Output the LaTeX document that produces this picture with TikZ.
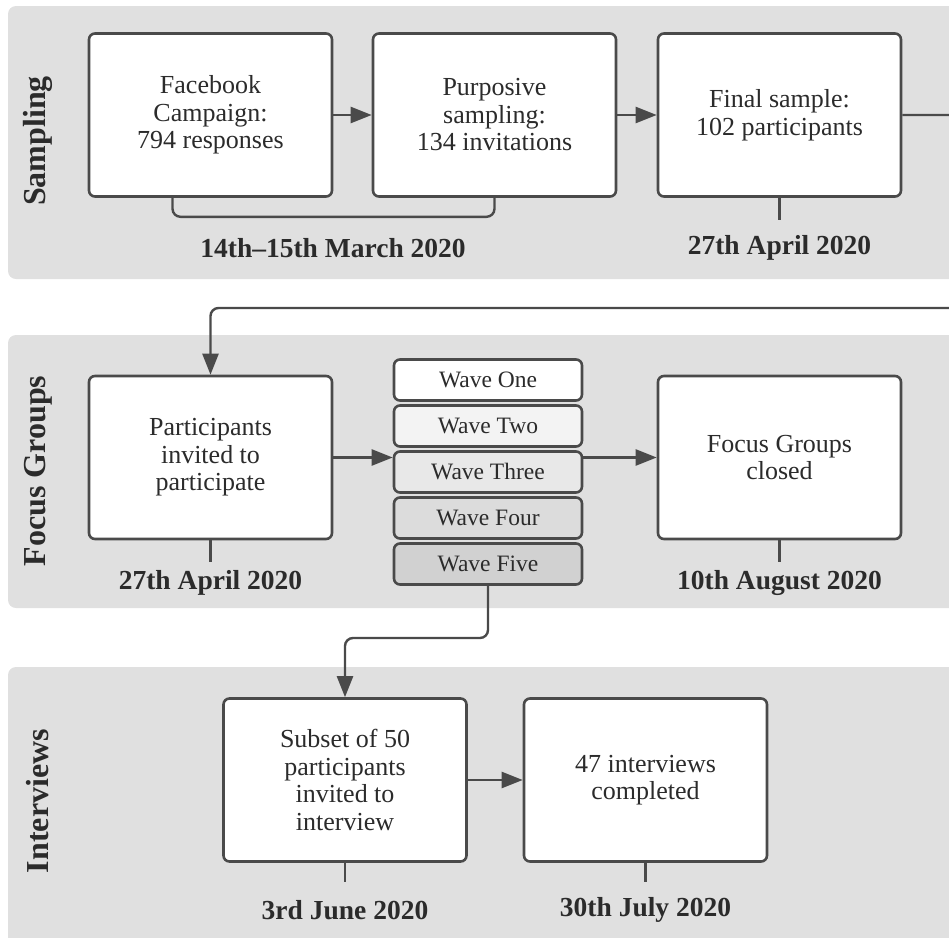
\documentclass[tikz,border=0pt]{standalone}
\usepackage{fontspec}
\setmainfont{Liberation Serif}
\usetikzlibrary{arrows.meta, positioning, calc}
\definecolor{BandGrey}{HTML}{E0E0E0}
\definecolor{LineGrey}{HTML}{4A4A4A}
\definecolor{TextDark}{HTML}{2B2B2B}
\definecolor{WaveOne}{HTML}{FFFFFF}
\definecolor{WaveTwo}{HTML}{F3F3F3}
\definecolor{WaveThree}{HTML}{E8E8E8}
\definecolor{WaveFour}{HTML}{DCDCDC}
\definecolor{WaveFive}{HTML}{D1D1D1}
\tikzset{
  band/.style={fill=BandGrey, rounded corners=8pt},
  stepbox/.style={draw=LineGrey, line width=2.6pt, fill=white, rounded corners=6pt,
    minimum width=243pt, minimum height=163pt, align=center, inner sep=0pt,
    text=TextDark, font=\fontsize{26}{27.5}\selectfont},
  wavebox/.style={stepbox, minimum width=188pt, minimum height=41pt,
    font=\fontsize{23.5}{25}\selectfont},
  conn/.style={draw=LineGrey, line width=2.4pt},
  arr/.style={conn, -{Triangle[length=21pt,width=16pt]}},
  datelabel/.style={text=TextDark, font=\bfseries\fontsize{27.5}{30}\selectfont},
  bandlabel/.style={rotate=90, text=TextDark, font=\bfseries\fontsize{32}{34}\selectfont}
}
\begin{document}
\begin{tikzpicture}[x=1pt, y=-1pt]
    \clip (0,0) rectangle (949,937);

    % Background bands
    \fill[band] (8,6) rectangle (980,279);
    \fill[band] (8,335) rectangle (980,608);
    \fill[band] (8,667) rectangle (980,960);
    \node[bandlabel] (lblSampling) at (38,141) {Sampling};
    \node[bandlabel] (lblFocus) at (38,471) {Focus Groups};
    \node[bandlabel] (lblInterviews) at (38,801) {Interviews};

    % Sampling
    \node[stepbox] (facebook) at (210.5,115) {Facebook\\Campaign:\\794 responses};
    \node[stepbox] (purposive) at (494.5,115) {Purposive\\sampling:\\134 invitations};
    \node[stepbox] (final) at (779.5,115) {Final sample:\\102 participants};
    \draw[arr] (facebook) -- (purposive);
    \draw[arr] (purposive) -- (final);
    \draw[conn, rounded corners=8pt] ([xshift=-38pt]facebook.south) -- ++(0,19) -| (purposive.south);
    \node[datelabel] (dateMarch) at (333,248) {14th–15th March 2020};
    \draw[conn] (final.south) -- ++(0,22) coordinate (finalTick);
    \node[datelabel] (dateFinal) at (779.5,248) {27th April 2020};

    % Focus groups
    \node[stepbox] (invite) at (210.5,457.5) {Participants\\invited to\\participate};
    \node[stepbox] (closed) at (779.5,457.5) {Focus Groups\\closed};
    \foreach \w/\txt/\shade [count=\i from 0] in {w1/Wave One/WaveOne, w2/Wave Two/WaveTwo,
        w3/Wave Three/WaveThree, w4/Wave Four/WaveFour, w5/Wave Five/WaveFive}
      \node[wavebox, fill=\shade] (\w) at (488,380+46*\i) {\txt};
    \draw[arr] (invite.east) -- (invite.east -| w3.west);
    \draw[arr] (w3.east |- closed.west) -- (closed.west);
    \draw[conn] (invite.south) -- ++(0,22) coordinate (inviteTick);
    \node[datelabel] (dateInvite) at (210.5,583) {27th April 2020};
    \draw[conn] (closed.south) -- ++(0,22) coordinate (closedTick);
    \node[datelabel] (dateClosed) at (779.5,583) {10th August 2020};

    % Link from sampling to focus groups
    \coordinate (loopRight) at (975,308);
    \draw[arr, rounded corners=8pt] (final.east) -| (loopRight) -| (invite.north);

    % Interviews
    \node[stepbox] (subset) at (345,780) {Subset of 50\\participants\\invited to\\interview};
    \node[stepbox] (done) at (645.5,780) {47 interviews\\completed};
    \draw[arr] (subset) -- (done);
    \coordinate (waveDrop) at (0,638);
    \draw[arr, rounded corners=8pt] (w5.south) |- (waveDrop -| subset.north) -- (subset.north);
    \draw[conn] (subset.south) -- ++(0,19) coordinate (subsetTick);
    \node[datelabel] (dateSubset) at (345,910) {3rd June 2020};
    \draw[conn] (done.south) -- ++(0,19) coordinate (doneTick);
    \node[datelabel] (dateDone) at (645.5,910) {30th July 2020};
\end{tikzpicture}
\end{document}
